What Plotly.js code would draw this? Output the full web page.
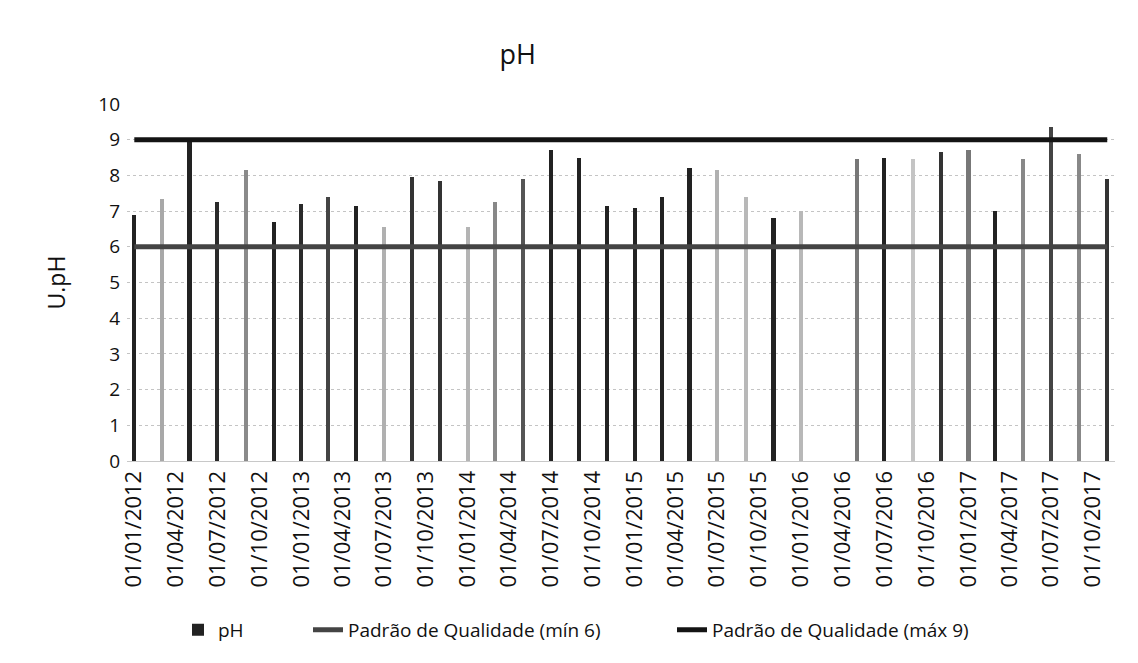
<!DOCTYPE html>
<html>
<head>
<meta charset="utf-8">
<script src="https://cdn.plot.ly/plotly-3.0.1.min.js"></script>
<style>html,body{margin:0;padding:0;background:#fff;}#chart{width:1138px;height:663px;}</style>
</head>
<body>
<div id="chart"></div>
<script>
// Sample dates (bimonthly), dd/mm/yyyy as in the source
const dates = [
  '2012-01-01','2012-03-01','2012-05-01','2012-07-01','2012-09-01','2012-11-01',
  '2013-01-01','2013-03-01','2013-05-01','2013-07-01','2013-09-01','2013-11-01',
  '2014-01-01','2014-03-01','2014-05-01','2014-07-01','2014-09-01','2014-11-01',
  '2015-01-01','2015-03-01','2015-05-01','2015-07-01','2015-09-01','2015-11-01',
  '2016-01-01','2016-03-01','2016-05-01','2016-07-01','2016-09-01','2016-11-01',
  '2017-01-01','2017-03-01','2017-05-01','2017-07-01','2017-09-01','2017-11-01'
];
// pH values (null = no sample)
const phValues = [
  6.9, 7.35, 9.0, 7.25, 8.15, 6.7,
  7.2, 7.4, 7.15, 6.55, 7.95, 7.85,
  6.55, 7.25, 7.9, 8.7, 8.5, 7.15,
  7.1, 7.4, 8.2, 8.15, 7.4, 6.8,
  7.0, null, 8.45, 8.5, 8.45, 8.65,
  8.7, 7.0, 8.45, 9.35, 8.6, 7.9
];
// Quality standards
const minStandard = dates.map(() => 6);
const maxStandard = dates.map(() => 9);

// Styles (scan shading of each bar)
const barShade = [
  '#222','#a8a8a8','#222','#2a2a2a','#8a8a8a','#222',
  '#2a2a2a','#444','#222','#b0b0b0','#333','#333',
  '#b4b4b4','#888','#555','#222','#222','#222',
  '#222','#222','#222','#b0b0b0','#b8b8b8','#222',
  '#b8b8b8','#222','#777','#222','#c4c4c4','#333',
  '#777','#222','#888','#444','#888','#333'
];

const font = "'Open Sans', 'DejaVu Sans', sans-serif";
const DAY = 86400000;

const traces = [
  {
    type: 'bar', name: 'pH', x: dates, y: phValues,
    width: dates.map(() => 9 * DAY),
    marker: { color: barShade, line: { width: 0 } },
    legend: 'legend'
  },
  {
    type: 'scatter', mode: 'lines', name: 'Padrão de Qualidade (mín 6)',
    x: dates, y: minStandard,
    line: { color: '#444444', width: 5 },
    legend: 'legend2'
  },
  {
    type: 'scatter', mode: 'lines', name: 'Padrão de Qualidade (máx 9)',
    x: dates, y: maxStandard,
    line: { color: '#141414', width: 5 },
    legend: 'legend3'
  }
];

const legendBase = {
  orientation: 'h', xref: 'container', xanchor: 'left',
  yref: 'container', y: 0.05, yanchor: 'middle',
  font: { family: font, size: 19, color: '#111' },
  bgcolor: 'rgba(0,0,0,0)', borderwidth: 0
};

const layout = {
  width: 1138, height: 663,
  paper_bgcolor: '#ffffff', plot_bgcolor: '#ffffff',
  font: { family: font, color: '#111', size: 19 },
  margin: { l: 127, r: 23, t: 104, b: 202 },
  title: {
    text: 'pH', font: { family: font, size: 27, color: '#111' },
    x: 0.455, xref: 'container', xanchor: 'center',
    y: 0.918, yref: 'container', yanchor: 'middle'
  },
  xaxis: {
    type: 'date',
    range: ['2011-12-16', '2017-11-18'],
    tick0: '2012-01-01', dtick: 'M3',
    tickformat: '%d/%m/%Y', tickangle: -90,
    tickfont: { family: font, size: 22, color: '#111' },
    showgrid: false, zeroline: false,
    showline: true, linecolor: '#c8c8c8', linewidth: 1,
    ticks: '', ticklen: 0
  },
  yaxis: {
    range: [0, 10], dtick: 1, tick0: 0,
    tickfont: { family: font, size: 19, color: '#111' },
    showgrid: true, gridcolor: '#c4c4c4', griddash: 'dot', gridwidth: 1,
    zeroline: false, showline: false, ticks: '', ticklabelstandoff: 6,
    title: { text: 'U.pH', font: { family: font, size: 23, color: '#111' }, standoff: 26 }
  },
  showlegend: true,
  legend: Object.assign({}, legendBase, { x: 178 / 1138 }),
  legend2: Object.assign({}, legendBase, { x: 308 / 1138 }),
  legend3: Object.assign({}, legendBase, { x: 672 / 1138 }),
  bargap: 0
};

Plotly.newPlot('chart', traces, layout, { displayModeBar: false, staticPlot: true });
</script>
</body>
</html>
